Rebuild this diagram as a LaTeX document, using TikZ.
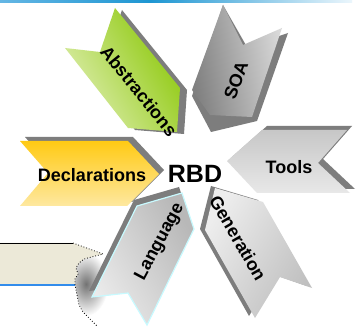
\documentclass[tikz,border=0pt]{standalone}
\usepackage{fontspec}
\setmainfont{Liberation Sans}
\definecolor{shd}{RGB}{125,125,125}
\definecolor{yelA}{RGB}{255,202,20}
\definecolor{yelB}{RGB}{254,232,160}
\definecolor{grnA}{RGB}{222,238,175}
\definecolor{grnB}{RGB}{140,200,10}
\definecolor{beige}{RGB}{236,233,216}
\definecolor{panelblue}{RGB}{50,140,235}
\definecolor{barA}{RGB}{100,182,228}
\definecolor{barB}{RGB}{30,150,210}
\definecolor{barC}{RGB}{235,246,252}
\definecolor{cyanline}{RGB}{200,250,255}
\begin{document}
\begin{tikzpicture}[x=1pt,y=-1pt,
  lbl/.style={font=\fontsize{18}{20}\selectfont\bfseries, inner sep=0pt},
  shadowpoly/.style={fill=shd, draw=none}]
\useasboundingbox (0,0) rectangle (358,328);
\fill[white] (0,0) rectangle (358,328);
% top bar
\shade[left color=barA, right color=barB] (0,0) rectangle (150,3);
\shade[left color=barB, right color=barC] (150,0) rectangle (352,3);
% torn panel
\shade[inner color=black!55, outer color=white] (86,284) ellipse (22 and 32);
\fill[white] (0,285) -- (75,285) -- (77,295) -- (79,305) -- (83,312) -- (89,318) -- (97,326) -- (97,328) -- (0,328) -- cycle;
\fill[beige] (0,243) -- (73,243) -- (103,254) -- (84,259) -- (79,263) -- (76,268) -- (78,274) -- (75,279) -- (75,285) -- (0,285) -- cycle;
\draw[line width=0.9pt] (0,243) -- (73,243);
\draw[panelblue, line width=1.6pt] (0,285) -- (75,285);
\draw[dotted, line width=0.8pt] (73,243) -- (103,254) -- (84,259) -- (79,263) -- (76,268) -- (78,274) -- (75,279) -- (75,285) -- (77,295) -- (79,305) -- (83,312) -- (89,318) -- (97,326);
% Declarations
\fill[shadowpoly] (25,137) -- (133,137) -- (164,170) -- (132,202) -- (25,202) -- (53,169) -- cycle;
\shade[top color=yelA, bottom color=yelB] (20,141) -- (128,141) -- (159,174) -- (127,206) -- (20,206) -- (48,173) -- cycle;
% Tools
\fill[shadowpoly] (267,126) -- (352,126) -- (323,159) -- (355,189) -- (262,189) -- (232,157) -- cycle;
\shade[top color=black!22, bottom color=black!9] (262,130) -- (347,130) -- (318,163) -- (350,193) -- (257,193) -- (227,161) -- cycle;
% SOA
\fill[shadowpoly] (223,5) -- (247,47) -- (288,33) -- (257,121) -- (211,132) -- (192,96) -- cycle;
\shade[top color=black!50, bottom color=black!15, shading angle=100] (223,5) -- (243,45) -- (282,28) -- (252,117) -- (210,115) -- (192,90) -- cycle;
% Abstractions
\fill[shadowpoly] (72,50) -- (107,54) -- (122,10) -- (187,90) -- (184,134) -- (135,130) -- cycle;
\shade[top color=grnA, bottom color=grnB, shading angle=120] (65,48) -- (100,52) -- (115,8) -- (180,88) -- (177,132) -- (128,128) -- cycle;
% Language
\fill[shadowpoly] (179,187) -- (191,223) -- (144,319) -- (125,287) -- (89,291) -- (134,200) -- cycle;
\shade[top color=black!8, bottom color=black!28, shading angle=120, draw=cyanline, line width=1.2pt] (182,193) -- (194,229) -- (147,325) -- (128,293) -- (92,297) -- (137,206) -- cycle;
% Generation
\fill[shadowpoly] (211,186) -- (258,200) -- (307,286) -- (275,275) -- (249,316) -- (200,229) -- cycle;
\shade[top color=black!7, bottom color=black!25, shading angle=60] (215,188) -- (263,202) -- (312,288) -- (280,277) -- (255,318) -- (205,230) -- cycle;
% labels
\node[lbl] (decl) at (92,175) {Declarations};
\node[lbl] (tools) at (289,167) {Tools};
\node[lbl, rotate=70] (soa) at (236,80) {SOA};
\node[lbl, rotate=-51] (abs) at (139,91) {Abstractions};
\node[lbl, rotate=62] (lang) at (160,242) {Language};
\node[lbl, rotate=-60] (gen) at (238,238) {Generation};
\node[font=\fontsize{25}{28}\selectfont\bfseries, inner sep=0pt] (rbd) at (195,174) {RBD};
\end{tikzpicture}
\end{document}
